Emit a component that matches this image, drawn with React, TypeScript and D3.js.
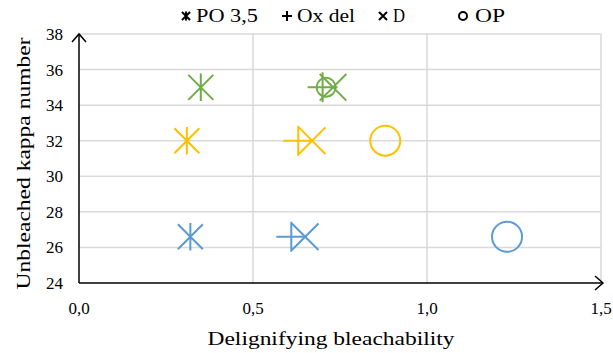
import React from "react";
import * as d3 from "d3";

// Series: one row per pulp, one marker type per bleaching measure
const kappa = [35, 32, 26.6];
const seriesColors = ["#70AD47", "#FFC000", "#5B9BD5"];
const po35 = [0.35, 0.31, 0.32];
const oxDel = [0.70, 0.63, 0.61];
const dStage = [0.73, 0.67, 0.65];
const opStage = [0.71, 0.88, 1.23];
const opRadius = [9.5, 15, 15];

const legendLabels = ["PO 3,5", "Ox del", "D", "OP"];
const xTicks = [0, 0.5, 1.0, 1.5];
const yTicks = [24, 26, 28, 30, 32, 34, 36, 38];

const W = 613;
const H = 353;
const FONT = "'Liberation Serif', 'DejaVu Serif', serif";

const x = d3.scaleLinear().domain([0, 1.5]).range([79, 601]);
const y = d3.scaleLinear().domain([24, 38]).range([283, 34]);

const fmt = (v: number) => d3.format(".1f")(v).replace(".", ",");

// Stroked marker shapes, centred at (cx, cy)
const starPath = (cx: number, cy: number, h: number) =>
  `M${cx - h},${cy - h}L${cx + h},${cy + h}M${cx - h},${cy + h}L${cx + h},${cy - h}M${cx},${cy - h * 1.1}L${cx},${cy + h * 1.1}`;
const plusPath = (cx: number, cy: number, h: number) =>
  `M${cx - h},${cy}L${cx + h},${cy}M${cx},${cy - h}L${cx},${cy + h}`;
const crossPath = (cx: number, cy: number, h: number) =>
  `M${cx - h},${cy - h}L${cx + h},${cy + h}M${cx - h},${cy + h}L${cx + h},${cy - h}`;

export default function App() {
  const [x0, x1] = x.range();
  const [yb, yt] = y.range();
  const legendX = [186, 287, 383, 463];
  const legendTextX = [196, 297, 393, 475];
  const legendTextW = [62, 58, 12, 30];
  const legendY = 16;

  return (
    <svg
      width={W}
      height={H}
      style={{ position: "absolute", left: 0, top: 0, background: "#fff" }}
      fontFamily={FONT}
    >
      <rect width={W} height={H} fill="#fff" />
      {/* gridlines */}
      {yTicks.filter((t) => t !== 24).map((t) => (
        <line key={"gy" + t} x1={x0} x2={x1} y1={y(t)} y2={y(t)} stroke="#d9d9d9" strokeWidth={1.5} />
      ))}
      {xTicks.filter((t) => t !== 0).map((t) => (
        <line key={"gx" + t} x1={x(t)} x2={x(t)} y1={yt} y2={yb} stroke="#d9d9d9" strokeWidth={1.5} />
      ))}

      {/* axes with open arrowheads */}
      <path d={`M${x0},${yb}L${x0},${yt}`} stroke="#000" strokeWidth={1.5} fill="none" />
      <path d={`M${x0 - 7},${yt + 8}L${x0},${yt}L${x0 + 7},${yt + 8}`} stroke="#000" strokeWidth={1.5} fill="none" />
      <path d={`M${x0},${yb}L${x1 + 2},${yb}`} stroke="#000" strokeWidth={1.5} fill="none" />
      <path d={`M${x1 - 6},${yb - 7}L${x1 + 2},${yb}L${x1 - 6},${yb + 7}`} stroke="#000" strokeWidth={1.5} fill="none" />

      {/* tick labels */}
      {yTicks.map((t) => (
        <text key={"ty" + t} x={63} y={y(t)} dy="0.35em" textAnchor="end" fontSize={17} fill="#000">
          {t}
        </text>
      ))}
      {xTicks.map((t) => (
        <text key={"tx" + t} x={x(t)} y={314} textAnchor="middle" fontSize={17} fill="#000">
          {fmt(t)}
        </text>
      ))}

      {/* axis titles */}
      <text
        x={(x0 + x1) / 2 - 9}
        y={345}
        textAnchor="middle"
        fontSize={19}
        fill="#000"
        textLength={247}
        lengthAdjust="spacingAndGlyphs"
      >
        Delignifying bleachability
      </text>
      <text
        transform={`translate(30,${(yb + yt) / 2 + 5}) rotate(-90)`}
        textAnchor="middle"
        fontSize={19}
        fill="#000"
        textLength={252}
        lengthAdjust="spacingAndGlyphs"
      >
        Unbleached kappa number
      </text>

      {/* data markers */}
      {kappa.map((k, i) => {
        const c = seriesColors[i];
        const cy = y(k);
        return (
          <g key={"s" + i} stroke={c} strokeWidth={2} fill="none">
            <path d={starPath(x(po35[i]), cy, 12.5)} />
            <path d={plusPath(x(oxDel[i]), cy, 15)} />
            <path d={crossPath(x(dStage[i]), cy, 13.3)} />
            <circle cx={x(opStage[i])} cy={cy} r={opRadius[i]} />
          </g>
        );
      })}

      {/* legend */}
      <g stroke="#000" strokeWidth={2} fill="none">
        <path d={starPath(legendX[0], legendY, 4)} />
        <path d={plusPath(legendX[1], legendY, 5)} />
        <path d={crossPath(legendX[2], legendY, 4)} />
        <circle cx={legendX[3]} cy={legendY} r={4} />
      </g>
      {legendLabels.map((l, i) => (
        <text
          key={"l" + i}
          x={legendTextX[i]}
          y={legendY}
          dy="0.35em"
          fontSize={18}
          fill="#000"
          textLength={legendTextW[i]}
          lengthAdjust="spacingAndGlyphs"
        >
          {l}
        </text>
      ))}
    </svg>
  );
}
